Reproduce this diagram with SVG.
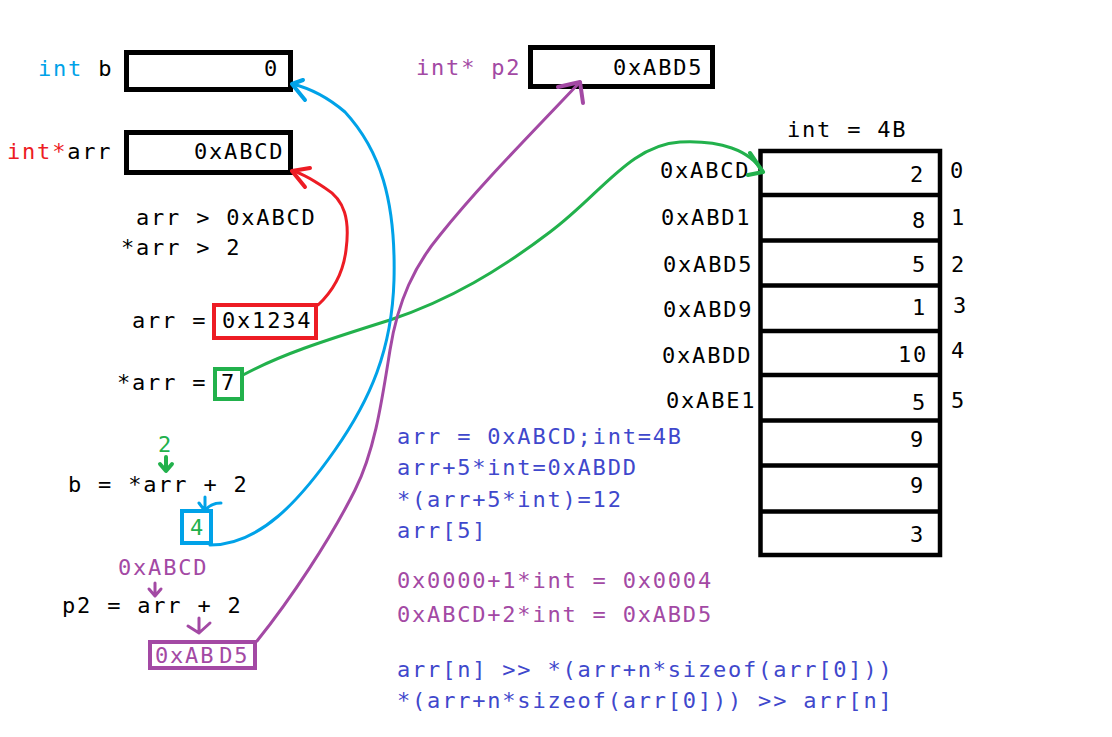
<svg xmlns="http://www.w3.org/2000/svg" width="1112" height="737" viewBox="0 0 1112 737">
<style>
text{font-family:"DejaVu Sans Mono","Liberation Mono",monospace;font-size:22px;letter-spacing:1.8px;fill:#000}
.blk{fill:none;stroke:#000;stroke-width:5}
.bl{fill:#3f48cc}.pu{fill:#a349a4}.rd{fill:#ed1c24}.gr{fill:#22b14c}.cy{fill:#00a2e8}
.c{fill:none;stroke-width:3;stroke-linecap:round;stroke-linejoin:round}
.h{fill:none;stroke-width:4;stroke-linecap:round;stroke-linejoin:round}
</style>
<rect width="1112" height="737" fill="#fff"/>

<g id="var-b">
<text x="38" y="76"><tspan class="cy">int</tspan> b</text>
<rect class="blk" x="126.5" y="52.5" width="164" height="37"/>
<text x="264" y="76">0</text>
</g>

<g id="var-arr">
<text x="7" y="159"><tspan class="rd">int*</tspan>arr</text>
<rect class="blk" x="126.5" y="132.5" width="164" height="40"/>
<text x="194" y="159">0xABCD</text>
</g>

<g id="var-p2">
<text x="416" y="75" class="pu">int* p2</text>
<rect class="blk" x="530.5" y="47.5" width="182" height="39"/>
<text x="613" y="75">0xABD5</text>
</g>

<g id="array">
<text x="787" y="137">int = 4B</text>
<rect x="760.5" y="151" width="179.5" height="404" fill="none" stroke="#000" stroke-width="4.5"/>
<path d="M760 195H940M760 240.5H940M760 285.5H940M760 331H940M760 375H940M760 420.5H940M760 465.5H940M760 511.5H940" stroke="#000" stroke-width="4.5"/>
<text x="910" y="182">2</text>
<text x="912" y="228">8</text>
<text x="912" y="272">5</text>
<text x="912" y="315">1</text>
<text x="898" y="362">10</text>
<text x="912" y="410">5</text>
<text x="910" y="447">9</text>
<text x="910" y="493">9</text>
<text x="910" y="542">3</text>
<text x="660" y="178">0xABCD</text>
<text x="661" y="225">0xABD1</text>
<text x="663" y="272">0xABD5</text>
<text x="663" y="317">0xABD9</text>
<text x="662" y="363">0xABDD</text>
<text x="666" y="408">0xABE1</text>
<text x="950" y="178">0</text>
<text x="951" y="225">1</text>
<text x="951" y="272">2</text>
<text x="953" y="313">3</text>
<text x="951" y="358">4</text>
<text x="951" y="408">5</text>
</g>

<g id="notes-arr">
<text x="136" y="225">arr &gt; 0xABCD</text>
<text x="121" y="255">*arr &gt; 2</text>
</g>

<g id="assign-arr">
<text x="132" y="328">arr = </text>
<rect x="214" y="305" width="102" height="33" fill="none" stroke="#ed1c24" stroke-width="4"/>
<text x="222" y="328">0x1234</text>
</g>

<g id="assign-deref">
<text x="117" y="390">*arr = </text>
<rect x="215" y="369" width="27" height="30" fill="none" stroke="#22b14c" stroke-width="4"/>
<text x="221" y="390">7</text>
</g>

<g id="assign-b">
<text x="158" y="452" class="gr">2</text>
<path class="h" stroke="#22b14c" stroke-width="3" d="M166 457V470M160 464L166 471L172 464"/>
<text x="68" y="492">b = *arr + 2</text>
<path class="c" stroke="#00a2e8" d="M205 497V511M199 503L205 511Q210 503 221 503"/>
<rect x="182" y="511" width="29" height="32" fill="none" stroke="#00a2e8" stroke-width="4"/>
<text x="190" y="535" class="gr">4</text>
</g>

<g id="assign-p2">
<text x="118" y="575" class="pu">0xABCD</text>
<path class="c" stroke="#a349a4" d="M155 583V595M149 589L155 596L161 589"/>
<text x="62" y="613">p2 = arr + 2</text>
<path class="c" stroke="#a349a4" d="M199 618V633M188 626L199 633L210 623"/>
<rect x="150" y="642" width="105" height="26" fill="none" stroke="#a349a4" stroke-width="4"/>
<text x="155" y="663" class="pu">0xAB<tspan dx="4">D5</tspan></text>
</g>

<g id="notes-blue" class="bl">
<text x="397" y="444" class="bl">arr = 0xABCD;int=4B</text>
<text x="397" y="475" class="bl">arr+5*int=0xABDD</text>
<text x="397" y="507" class="bl">*(arr+5*int)=12</text>
<text x="397" y="538" class="bl">arr[5]</text>
<text x="397" y="588" class="pu">0x0000+1*int = 0x0004</text>
<text x="397" y="622" class="pu">0xABCD+2*int = 0xABD5</text>
<text x="397" y="677" class="bl">arr[n] &gt;&gt; *(arr+n*sizeof(arr[0]))</text>
<text x="397" y="708" class="bl">*(arr+n*sizeof(arr[0])) &gt;&gt; arr[n]</text>
</g>

<g id="connectors">
<path class="c" stroke="#ed1c24" d="M318 305C332 292 343 275 346 250C350 220 345 200 325 188C310 178 300 172 292 171"/>
<path class="h" stroke="#ed1c24" d="M310 168L292 171L305 187"/>
<path class="c" stroke="#22b14c" d="M243 375C280 355 320 342 390 320C450 300 500 270 550 232C600 195 630 145 680 142C720 140 750 150 763 172"/>
<path class="h" stroke="#22b14c" d="M750 153L763 172L748 175"/>
<path class="c" stroke="#00a2e8" d="M210 545C260 545 300 500 335 450C370 400 392 350 394 280C396 200 380 150 345 112C325 95 305 87 292 84"/>
<path class="h" stroke="#00a2e8" d="M303 80L292 84L305 100"/>
<path class="c" stroke="#a349a4" d="M257 641C290 600 330 540 355 490C375 450 382 400 390 350C398 300 415 265 440 235C480 185 530 135 580 82"/>
<path class="h" stroke="#a349a4" d="M558 87L580 82L583 103"/>
</g>
</svg>
